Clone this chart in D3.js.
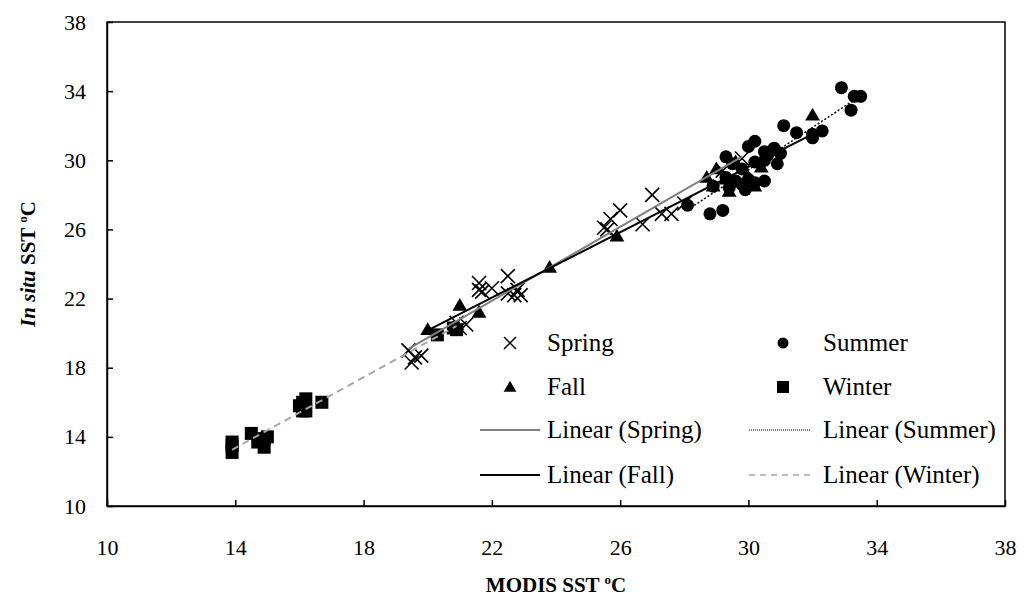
<!DOCTYPE html>
<html>
<head>
<meta charset="utf-8">
<script src="https://cdn.jsdelivr.net/npm/d3@7"></script>
<style>
  body { margin: 0; background: #fff; }
  svg text { font-family: "Liberation Serif", "Times New Roman", serif !important; }
</style>
</head>
<body>
<script>
const svg_width = 1031, svg_height = 602;
const serif = "'Liberation Serif', 'Times New Roman', serif";

// data (MODIS SST, in situ SST)
const spring = [[19.4,19.0],[19.5,18.3],[19.6,18.6],[19.8,18.7],[20.9,20.6],[21.0,20.3],[21.2,20.5],
  [21.6,22.9],[21.7,22.4],[21.6,22.5],[22.0,22.6],[22.5,23.3],[22.5,22.3],[22.7,22.2],[22.8,22.5],[22.9,22.2],
  [25.5,26.1],[25.6,26.0],[25.7,26.6],[26.0,27.1],[26.7,26.3],[27.0,28.0],[27.3,26.9],[27.6,26.9],[28.0,27.5],
  [29.2,29.4],[29.8,30.1]];
const summer = [[32.9,34.2],[33.3,33.7],[33.5,33.7],[33.2,32.9],[31.1,32.0],[31.5,31.6],[32.0,31.5],[32.3,31.7],[32.0,31.3],
  [30.2,31.1],[30.0,30.8],[29.3,30.2],[30.5,30.5],[30.8,30.7],[30.6,30.3],[31.0,30.4],
  [29.5,29.8],[29.8,29.5],[30.2,29.9],[30.5,30.0],[30.9,29.8],
  [29.3,29.0],[29.6,28.8],[29.8,28.6],[30.0,28.9],[30.2,28.7],[30.5,28.8],[29.4,28.4],[29.9,28.3],
  [28.8,26.9],[29.2,27.1],[28.1,27.4],[28.9,28.5]];
const fall = [[20.0,20.2],[21.0,21.6],[21.6,21.2],[23.8,23.8],[25.9,25.6],[28.7,29.0],[28.9,28.5],[29.4,28.2],
  [29.6,29.9],[30.0,29.0],[30.2,28.5],[30.4,29.6],[29.3,28.9],[30.9,30.6],[32.0,32.6],[29.0,29.5]];
const winter = [[13.9,13.7],[13.9,13.1],[13.9,13.5],[14.5,14.2],[14.7,13.7],[14.9,13.9],[14.9,13.4],[15.0,14.0],
  [16.0,15.8],[16.1,16.0],[16.2,16.2],[16.1,15.5],[16.2,15.5],[16.7,16.0],
  [20.3,19.9],[20.9,20.2],[20.8,20.3]];
const ticks = [10,14,18,22,26,30,34,38];

const margin = {left:107, right:1005, top:22, bottom:506};
const x = d3.scaleLinear().domain([10,38]).range([margin.left, margin.right]);
const y = d3.scaleLinear().domain([10,38]).range([margin.bottom, margin.top]);

var svg = d3.select("body").append("svg")
  .attr("width", svg_width).attr("height", svg_height)
  .attr("font-family", serif);

// frame
svg.append("rect")
  .attr("x", margin.left).attr("y", margin.top)
  .attr("width", margin.right - margin.left).attr("height", margin.bottom - margin.top)
  .attr("fill", "none").attr("stroke", "black").attr("stroke-width", 1.5);

// axes with inward ticks
var xAxis = svg.append("g").attr("transform", "translate(0," + margin.bottom + ")")
  .call(d3.axisBottom(x).tickValues(ticks).tickSizeInner(-6).tickSizeOuter(0).tickPadding(33));
var yAxis = svg.append("g").attr("transform", "translate(" + margin.left + ",0)")
  .call(d3.axisLeft(y).tickValues(ticks).tickSizeInner(-6).tickSizeOuter(0).tickPadding(21));
[xAxis, yAxis].forEach(function(a){
  a.attr("font-family", serif).attr("font-size", 22);
  a.select(".domain").attr("stroke", "black").attr("stroke-width", 1.5);
  a.selectAll(".tick line").attr("stroke", "black").attr("stroke-width", 1.5);
  a.selectAll(".tick text").attr("fill", "black").style("font-family", serif).style("font-size", "22px");
});

// least squares trendline
function fit(data){
  var mx = d3.mean(data, d => d[0]), my = d3.mean(data, d => d[1]);
  var sxy = d3.sum(data, d => (d[0]-mx)*(d[1]-my)), sxx = d3.sum(data, d => (d[0]-mx)*(d[0]-mx));
  var b = sxy / sxx, a = my - b*mx;
  var x0 = d3.min(data, d => d[0]), x1 = d3.max(data, d => d[0]);
  return [[x0, a + b*x0], [x1, a + b*x1]];
}
var line = d3.line().x(d => x(d[0])).y(d => y(d[1]));
const trends = [
  {data: winter, stroke: "#a6a6a6", dash: "7,5", width: 2},
  {data: spring, stroke: "#7f7f7f", dash: null, width: 2},
  {data: fall, stroke: "black", dash: null, width: 2},
  {data: summer, stroke: "black", dash: "2,2", width: 1.5}
];

// markers
var g = svg.append("g");
g.selectAll(".sq").data(winter).enter().append("rect")
  .attr("x", d => x(d[0]) - 6.5).attr("y", d => y(d[1]) - 6.5)
  .attr("width", 13).attr("height", 13).attr("fill", "black");
g.selectAll(".ci").data(summer).enter().append("circle")
  .attr("cx", d => x(d[0])).attr("cy", d => y(d[1])).attr("r", 6.5).attr("fill", "black");
var tri = d3.symbol().type(d3.symbolTriangle).size(95);
g.selectAll(".tr").data(fall).enter().append("path")
  .attr("d", tri).attr("transform", d => "translate(" + x(d[0]) + "," + (y(d[1]) + 1) + ")").attr("fill", "black");
var cross = "M-7,-7L7,7M-7,7L7,-7";
g.selectAll(".cr").data(spring).enter().append("path")
  .attr("d", cross).attr("transform", d => "translate(" + x(d[0]) + "," + y(d[1]) + ")")
  .attr("stroke", "black").attr("stroke-width", 1.6).attr("fill", "none");

trends.forEach(function(t){
  svg.append("path").attr("d", line(fit(t.data)))
    .attr("stroke", t.stroke).attr("stroke-width", t.width)
    .attr("stroke-dasharray", t.dash).attr("fill", "none");
});

// legend
var leg = svg.append("g").attr("font-size", "25px").attr("font-family", serif);
function legText(tx, ty, s){
  leg.append("text").attr("x", tx).attr("y", ty + 8).style("font-family", serif).text(s);
}
leg.append("path").attr("d", "M-6,-6L6,6M-6,6L6,-6").attr("transform", "translate(510,343)")
  .attr("stroke", "black").attr("stroke-width", 1.5);
legText(547, 343, "Spring");
leg.append("path").attr("d", d3.symbol().type(d3.symbolTriangle).size(70)).attr("transform", "translate(510,388)");
legText(547, 387, "Fall");
leg.append("line").attr("x1", 480).attr("x2", 540).attr("y1", 430).attr("y2", 430)
  .attr("stroke", "#7f7f7f").attr("stroke-width", 2);
legText(547, 430, "Linear (Spring)");
leg.append("line").attr("x1", 480).attr("x2", 540).attr("y1", 475).attr("y2", 475)
  .attr("stroke", "black").attr("stroke-width", 2);
legText(547, 475, "Linear (Fall)");
leg.append("circle").attr("cx", 783).attr("cy", 343).attr("r", 5.5);
legText(823, 343, "Summer");
leg.append("rect").attr("x", 777).attr("y", 381).attr("width", 12).attr("height", 12);
legText(823, 387, "Winter");
leg.append("line").attr("x1", 749).attr("x2", 810).attr("y1", 430).attr("y2", 430)
  .attr("stroke", "black").attr("stroke-width", 1).attr("stroke-dasharray", "1,1");
legText(823, 430, "Linear (Summer)");
leg.append("line").attr("x1", 749).attr("x2", 810).attr("y1", 475).attr("y2", 475)
  .attr("stroke", "#a6a6a6").attr("stroke-width", 1.5).attr("stroke-dasharray", "6,5");
legText(823, 475, "Linear (Winter)");

// axis titles
var xt = svg.append("text").attr("x", (margin.left + margin.right)/2).attr("y", 592)
  .attr("text-anchor", "middle").attr("font-size", "21px").attr("font-weight", "bold");
xt.append("tspan").text("MODIS SST ");
xt.append("tspan").attr("font-size", "13px").attr("dy", -8).text("o");
xt.append("tspan").attr("dy", 8).text("C");

var yt = svg.append("text").attr("transform", "translate(35," + (margin.top + margin.bottom)/2 + ") rotate(-90)")
  .attr("text-anchor", "middle").attr("font-size", "21px").attr("font-weight", "bold");
yt.append("tspan").attr("font-style", "italic").text("In situ");
yt.append("tspan").text(" SST ");
yt.append("tspan").attr("font-size", "13px").attr("dy", -8).text("o");
yt.append("tspan").attr("dy", 8).text("C");
</script>
</body>
</html>
